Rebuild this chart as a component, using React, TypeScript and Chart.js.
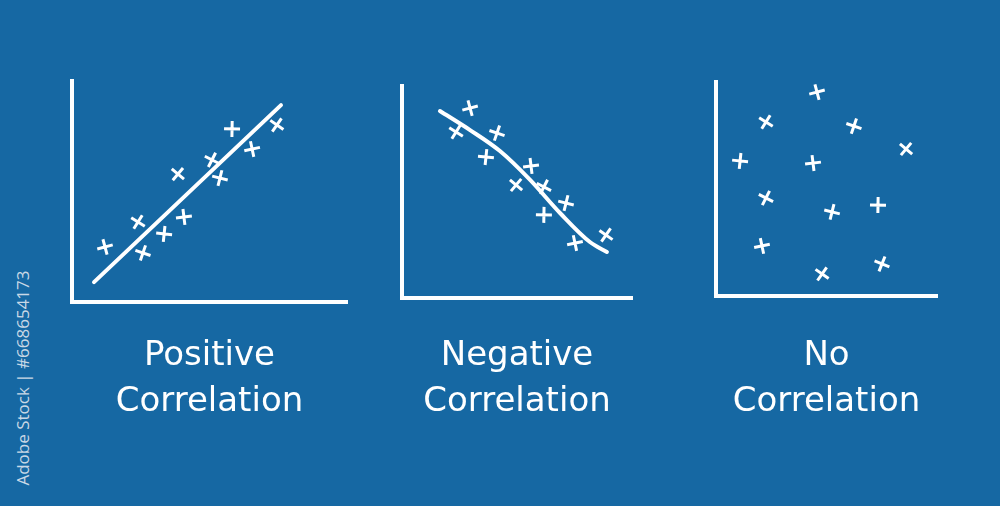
import React, { useEffect, useRef } from 'react';
import { Chart, registerables } from 'chart.js';

Chart.register(...registerables);

const BG = '#1668a3';

// Positive correlation
const POS_X = [1.2, 2.4, 2.58, 3.35, 4.07, 3.85, 5.09, 5.38, 5.82, 6.55, 7.45];
const POS_Y = [2.49, 3.62, 2.22, 3.08, 3.85, 5.79, 6.43, 5.61, 7.83, 6.92, 8.01];
const POS_FIT_X = [0.8, 7.6];
const POS_FIT_Y = [0.9, 8.91];

// Negative correlation
const NEG_X = [2.96, 2.35, 4.13, 3.65, 5.61, 4.96, 6.17, 7.13, 6.17, 7.52, 8.87];
const NEG_Y = [8.96, 7.83, 7.78, 6.65, 6.23, 5.33, 5.24, 4.48, 3.92, 2.59, 2.97];
const NEG_FIT_X = [1.65, 2.96, 4.26, 5.57, 6.87, 8.17, 8.91];
const NEG_FIT_Y = [8.82, 7.92, 6.93, 5.57, 4.01, 2.64, 2.17];

// No correlation
const NONE_X = [4.57, 2.26, 6.24, 1.09, 4.39, 8.6, 2.26, 5.25, 7.33, 2.08, 4.8, 7.51];
const NONE_Y = [9.53, 8.13, 7.94, 6.31, 6.21, 6.87, 4.58, 3.93, 4.25, 2.34, 1.03, 1.5];

const TITLE_POS = ['Positive', 'Correlation'];
const TITLE_NEG = ['Negative', 'Correlation'];
const TITLE_NONE = ['No', 'Correlation'];

const STOCK_LABEL = 'Adobe Stock | #668654173';

const zip = (xs: number[], ys: number[]) => xs.map((x, i) => ({ x, y: ys[i] }));

type Rect = { l: number; t: number; r: number; b: number };

const PAD = 14;
const LINE_H = 46;
const LINE1_MID = 356;

function Panel({ rect, xs, ys, fitX, fitY, title, smooth }: {
  rect: Rect; xs: number[]; ys: number[]; fitX?: number[]; fitY?: number[]; title: string[]; smooth: boolean;
}) {
  const ref = useRef<HTMLCanvasElement | null>(null);
  const padTop = LINE1_MID - rect.b - LINE_H / 2;
  const padBottom = 8;
  const titleH = padTop + 2 * LINE_H + padBottom;
  const width = rect.r - rect.l + 2 * PAD;
  const height = rect.b - rect.t + 2 * PAD + titleH;

  useEffect(() => {
    if (!ref.current) return;
    const datasets: any[] = [
      {
        data: zip(xs, ys),
        pointStyle: 'cross',
        pointRadius: 8,
        pointBorderWidth: 3,
        pointBorderColor: '#ffffff',
        pointBackgroundColor: '#ffffff',
        pointRotation: (c: any) => ((c.dataIndex * 47) % 60) - 15,
        showLine: false,
      },
    ];
    if (fitX && fitY) {
      datasets.push({
        data: zip(fitX, fitY),
        showLine: true,
        pointRadius: 0,
        borderColor: '#ffffff',
        borderWidth: 4,
        borderCapStyle: 'round',
        borderJoinStyle: 'round',
        tension: smooth ? 0.4 : 0,
        cubicInterpolationMode: smooth ? 'monotone' : 'default',
      });
    }
    const axis = (min: number, max: number) => ({
      type: 'linear',
      min,
      max,
      ticks: { display: false },
      grid: { display: false, drawTicks: false },
      border: { display: true, color: '#ffffff', width: 4 },
    });
    const chart = new Chart(ref.current, {
      type: 'scatter',
      data: { datasets },
      options: {
        animation: false,
        responsive: true,
        maintainAspectRatio: false,
        layout: { padding: PAD },
        scales: { x: axis(0, 10) as any, y: axis(0, 10) as any },
        plugins: {
          legend: { display: false },
          tooltip: { enabled: false },
          title: {
            display: true,
            position: 'bottom',
            text: title,
            color: '#ffffff',
            font: { family: '"DejaVu Sans", sans-serif', size: 34, weight: 'normal', lineHeight: `${LINE_H}px` },
            padding: { top: padTop, bottom: padBottom },
          },
        },
      } as any,
    });
    return () => chart.destroy();
  }, []);

  return (
    <div style={{ position: 'absolute', left: rect.l - PAD, top: rect.t - PAD, width, height }}>
      <canvas ref={ref} />
    </div>
  );
}

export default function App() {
  return (
    <div style={{ position: 'relative', width: 1000, height: 506, background: BG, overflow: 'hidden' }}>
      <style>{`html,body{margin:0;padding:0;background:${BG};}`}</style>
      <Panel rect={{ l: 72, t: 81, r: 347, b: 302 }} xs={POS_X} ys={POS_Y} fitX={POS_FIT_X} fitY={POS_FIT_Y} title={TITLE_POS} smooth={false} />
      <Panel rect={{ l: 402, t: 86, r: 632, b: 298 }} xs={NEG_X} ys={NEG_Y} fitX={NEG_FIT_X} fitY={NEG_FIT_Y} title={TITLE_NEG} smooth={true} />
      <Panel rect={{ l: 716, t: 82, r: 937, b: 296 }} xs={NONE_X} ys={NONE_Y} title={TITLE_NONE} smooth={false} />
      <div
        style={{
          position: 'absolute',
          left: 22,
          top: 378,
          transform: 'translate(-50%, -50%) rotate(-90deg)',
          whiteSpace: 'nowrap',
          fontFamily: '"Open Sans", sans-serif',
          fontSize: 17,
          color: '#c9d8e6',
          lineHeight: 1,
        }}
      >
        {STOCK_LABEL}
      </div>
    </div>
  );
}
